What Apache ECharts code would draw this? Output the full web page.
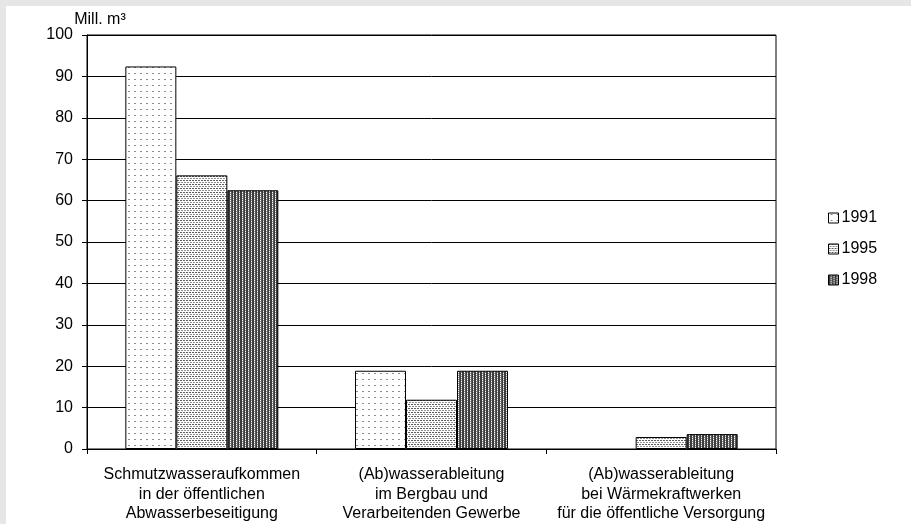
<!DOCTYPE html>
<html>
<head>
<meta charset="utf-8">
<script src="https://cdn.jsdelivr.net/npm/echarts@6/dist/echarts.min.js"></script>
<style>
  html, body { margin: 0; padding: 0; background: #e6e6e6; }
  #chart { width: 911px; height: 524px; }
</style>
</head>
<body>
<div id="chart"></div>
<script>
// Abwasseraufkommen nach Herkunft, Mill. m³
const categories = [
  'Schmutzwasseraufkommen\nin der öffentlichen\nAbwasserbeseitigung',
  '(Ab)wasserableitung\nim Bergbau und\nVerarbeitenden Gewerbe',
  '(Ab)wasserableitung\nbei Wärmekraftwerken\nfür die öffentliche Versorgung'
];
const years = ['1991', '1995', '1998'];
const values1991 = [92.4, 18.9, null];
const values1995 = [66.1, 11.9, 2.9];
const values1998 = [62.5, 18.9, 3.6];
const yTicks = [0, 10, 20, 30, 40, 50, 60, 70, 80, 90, 100];

const FONT = '"Liberation Sans", Arial, sans-serif';

// Small tiled fills used for the bars
function makePattern(w, h, bg, dots) {
  const c = document.createElement('canvas');
  c.width = w; c.height = h;
  const ctx = c.getContext('2d');
  ctx.fillStyle = bg;
  ctx.fillRect(0, 0, w, h);
  dots.forEach(([x, y, dw, dh, col]) => {
    ctx.fillStyle = col;
    ctx.fillRect(x, y, dw, dh);
  });
  return c;
}

const sparseDots = makePattern(6, 6, '#ffffff', [[2, 1, 2, 1, '#8c8c8c']]);
const denseDots = makePattern(6, 4, '#ffffff', [
  [0, 0, 2, 1, '#5e5e5e'], [3, 0, 2, 1, '#5e5e5e'],
  [1, 2, 2, 1, '#8e8e8e'], [4, 2, 2, 1, '#8e8e8e']
]);
const darkStripes = makePattern(6, 2, '#3c3c3c', [
  [2, 0, 1, 1, '#ffffff'], [2, 1, 1, 1, '#8a8a8a'],
  [3, 0, 1, 2, '#5a5a5a'],
  [5, 0, 1, 1, '#8a8a8a'], [5, 1, 1, 1, '#ffffff']
]);

const fills = [sparseDots, denseDots, darkStripes];
const seriesValues = [values1991, values1995, values1998];

const chart = echarts.init(document.getElementById('chart'), null, { renderer: 'canvas' });

const option = {
  backgroundColor: '#e6e6e6',
  animation: false,
  graphic: [{
    type: 'rect',
    z: -100,
    shape: { x: 6, y: 6, width: 905, height: 518 },
    style: { fill: '#ffffff' },
    silent: true
  }],
  grid: {
    left: 87, right: 135, top: 35, bottom: 75,
    show: true, borderColor: '#000', borderWidth: 1,
    backgroundColor: 'transparent'
  },
  legend: {
    orient: 'vertical',
    left: 823,
    top: 205,
    itemWidth: 10,
    itemHeight: 10,
    itemGap: 15,
    icon: 'rect',
    itemStyle: { borderColor: '#000', borderWidth: 1 },
    textStyle: { fontFamily: FONT, fontSize: 16, color: '#000', padding: [0, 0, 0, -2] },
    data: years
  },
  xAxis: {
    type: 'category',
    data: categories,
    axisLine: { lineStyle: { color: '#000', width: 1 } },
    axisTick: { show: true, length: 5, lineStyle: { color: '#000' } },
    axisLabel: {
      interval: 0, margin: 16, color: '#000',
      fontFamily: FONT, fontSize: 16, lineHeight: 19.5, align: 'center'
    },
    splitLine: { show: false }
  },
  yAxis: {
    type: 'value',
    min: yTicks[0],
    max: yTicks[yTicks.length - 1],
    interval: yTicks[1] - yTicks[0],
    name: 'Mill. m³',
    nameLocation: 'end',
    nameGap: 3,
    nameTextStyle: { fontFamily: FONT, fontSize: 16, color: '#000', align: 'center', padding: [0, 0, 0, 26] },
    axisLine: { show: true, lineStyle: { color: '#000', width: 1 } },
    axisTick: { show: true, length: 5, lineStyle: { color: '#000' } },
    axisLabel: { margin: 14, color: '#000', fontFamily: FONT, fontSize: 16 },
    splitLine: { show: true, lineStyle: { color: '#000', width: 1 } }
  },
  series: years.map((y, i) => ({
    name: y,
    type: 'bar',
    data: seriesValues[i],
    barWidth: 51,
    barGap: '0%',
    itemStyle: {
      color: { image: fills[i], repeat: 'repeat' },
      borderColor: '#000',
      borderWidth: 1
    }
  }))
};

chart.setOption(option);
</script>
</body>
</html>
